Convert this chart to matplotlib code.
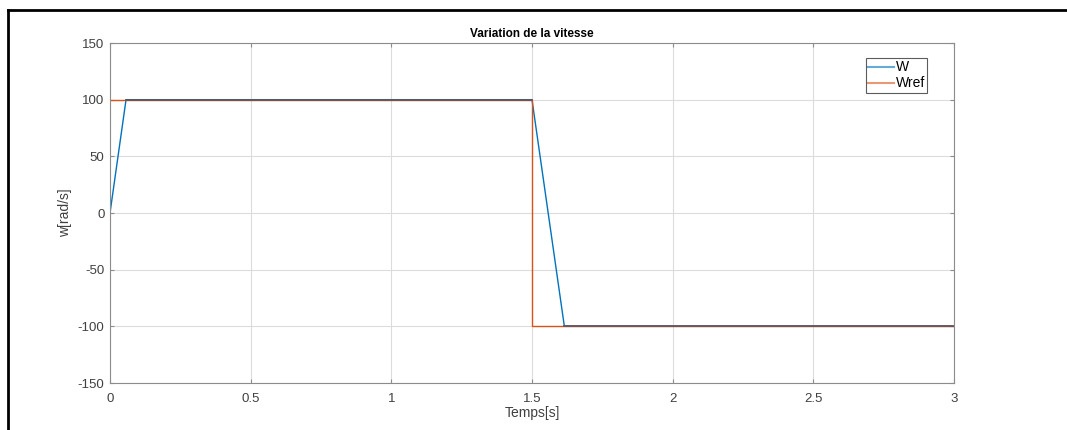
import matplotlib
matplotlib.use("Agg")
import matplotlib.pyplot as plt
import numpy as np
from matplotlib.lines import Line2D

# Speed response (W) and reference (Wref)
t_w = [0.0, 0.057, 1.5, 1.615, 3.0]
w = [0.0, 100.0, 100.0, -100.0, -100.0]
t_ref = [0.0, 1.5, 1.5, 3.0]
w_ref = [100.0, 100.0, -100.0, -100.0]
# Segments where W and Wref coincide
t_same = [[0.057, 1.5], [1.615, 3.0]]
w_same = [[100.0, 100.0], [-100.0, -100.0]]

plt.rcParams["font.family"] = ["Liberation Sans", "DejaVu Sans"]
plt.rcParams["axes.unicode_minus"] = False

fig = plt.figure(figsize=(10.67, 4.30), dpi=100)
ax = fig.add_axes([110 / 1067, 1 - 383 / 430, 844 / 1067, 340 / 430])

# Figure frame
fig.add_artist(Line2D([8 / 1067, 8 / 1067], [0, 1 - 10 / 430], transform=fig.transFigure, color="black", lw=2))
fig.add_artist(Line2D([8 / 1067, 1], [1 - 10 / 430, 1 - 10 / 430], transform=fig.transFigure, color="black", lw=2))

ax.plot(t_w, w, color="#0072BD", lw=1.0, label="W")
ax.plot(t_ref, w_ref, color="#D95319", lw=1.0, label="Wref")
for ts, ws in zip(t_same, w_same):
    ax.plot(ts, ws, color="#5d5862", lw=1.3)

ax.set_xlim(0, 3)
ax.set_ylim(-150, 150)
ax.set_xticks(np.arange(0, 3.01, 0.5))
ax.set_xticklabels(["0", "0.5", "1", "1.5", "2", "2.5", "3"])
ax.set_yticks(np.arange(-150, 151, 50))
ax.grid(True, color="#dcdcdc", lw=0.8)
ax.set_axisbelow(True)
for s in ax.spines.values():
    s.set_color("#8c8c8c")
    s.set_linewidth(0.8)
ax.tick_params(direction="in", length=3, width=0.8, color="#8c8c8c", labelcolor="#404040",
               labelsize=9.5, top=True, right=True)
ax.tick_params(axis="x", pad=7)
ax.tick_params(axis="y", pad=4)

ax.set_title("Variation de la vitesse", fontsize=8.5, fontweight="bold", pad=4)
ax.set_xlabel("Temps[s]", fontsize=10, color="#404040", labelpad=1)
ax.set_ylabel("w[rad/s]", fontsize=10, color="#404040", labelpad=4)

leg = ax.legend(loc="upper right", bbox_to_anchor=(0.968, 0.955), fontsize=10, frameon=True,
                fancybox=False, handlelength=1.9, handletextpad=0.1, borderpad=0.15,
                labelspacing=0.15, borderaxespad=0)
leg.get_frame().set_edgecolor("#333333")
leg.get_frame().set_linewidth(0.8)
for h in leg.legend_handles:
    h.set_alpha(0.6)
    h.set_linewidth(1.5)

fig.savefig("out.png", dpi=100)
